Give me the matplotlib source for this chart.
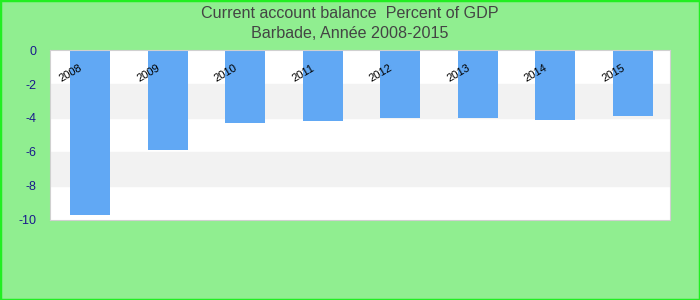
import matplotlib
matplotlib.use("Agg")
import matplotlib.pyplot as plt
from matplotlib.patches import Rectangle

years = ["2008", "2009", "2010", "2011", "2012", "2013", "2014", "2015"]
values = [-9.7, -5.9, -4.3, -4.2, -4.0, -4.0, -4.1, -3.9]
yticks = [0, -2, -4, -6, -8, -10]

plt.rcParams['font.family'] = ['Liberation Sans', 'DejaVu Sans']

fig = plt.figure(figsize=(7, 3), dpi=100, facecolor='#90ee90')
fig.patches.append(Rectangle((0, 0), 1, 1, transform=fig.transFigure,
                             fill=False, edgecolor='#22ee22', linewidth=2.5))
ax = fig.add_axes([50 / 700, 80 / 300, 620 / 700, 170 / 300])
ax.set_facecolor('white')

# alternating horizontal bands
for i in range(len(yticks) - 1):
    if i % 2 == 1:
        ax.axhspan(yticks[i + 1], yticks[i], color='#f2f2f2', zorder=0)

x = list(range(len(years)))
ax.bar([i + 0.02 for i in x], values, width=0.52, color='#61a8f4', zorder=2)

ax.set_xlim(-0.5, len(years) - 0.5)
ax.set_ylim(-10, 0)
ax.set_xticks([])
ax.set_yticks(yticks)
ax.set_yticklabels([str(t) for t in yticks], color='#1a1a8c', fontsize=9)
ax.tick_params(axis='y', length=0, pad=10)
for s in ax.spines.values():
    s.set_color('#d0d0d0')

for i, yr in enumerate(years):
    ax.text(i - 0.06, -1.35, yr, rotation=30, ha='right', va='center',
            fontsize=8, color='black', zorder=3)

fig.text(0.5, 1 - 13 / 300, "Current account balance  Percent of GDP",
         ha='center', va='center', fontsize=11.6, color='#444444')
fig.text(0.5, 1 - 33 / 300, "Barbade, Année 2008-2015",
         ha='center', va='center', fontsize=11.6, color='#444444')

fig.savefig("out.png", dpi=100, facecolor=fig.get_facecolor())
